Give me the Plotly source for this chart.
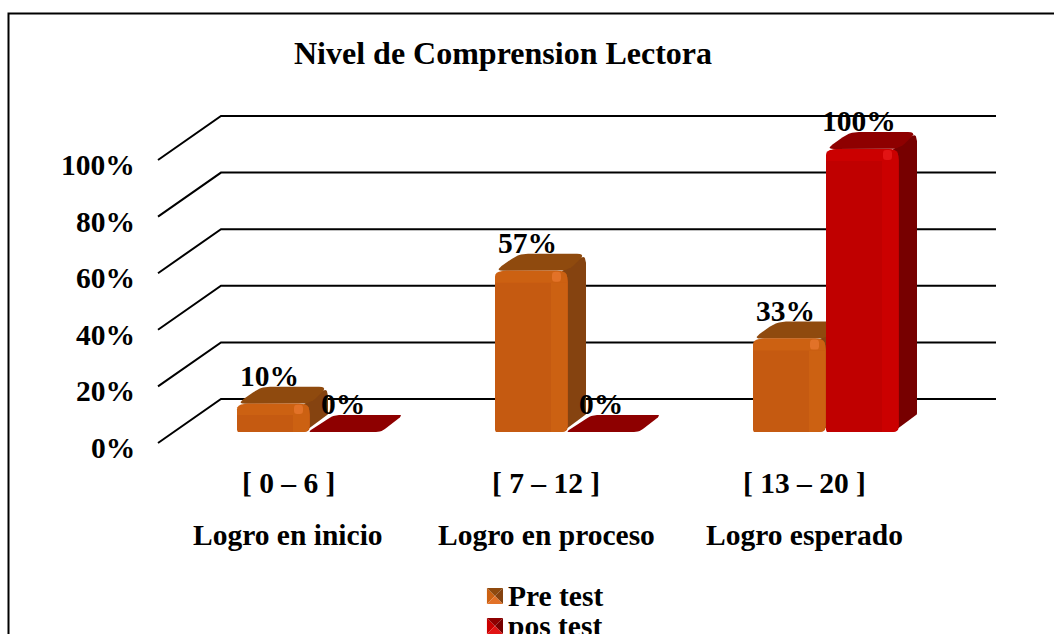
import plotly.graph_objects as go

# ---- data ----
categories = ["[ 0 – 6 ]", "[ 7 – 12 ]", "[ 13 – 20 ]"]
levels = ["Logro en inicio", "Logro en proceso", "Logro esperado"]
series_names = ["Pre test", "pos test"]
pre_test = [10, 57, 33]
pos_test = [0, 0, 100]
y_ticks = [0, 20, 40, 60, 80, 100]
title = "Nivel de Comprension Lectora"

# ---- layout constants (screen scale of the axes) ----
W, H = 1054, 634
UX = 258.0      # px per category
UY = 2.83       # px per percent
X0, Y0 = 310.0, 432.0   # px of category 0 boundary, and of the bar base
BAR_W, BAR_DX, BAR_DY = 73.0, 18.0, 17.0
GRID_BACK, GRID_FRONT = 33.0, -11.0   # px above the bar base at value 0
GRID_L, GRID_M, GRID_R = 158.0, 221.0, 996.0
FONT = "Liberation Serif"

PRE = dict(front="#C55A11", band="#CC6112", hi="#E27228", top="#8F4A0E", side="#854310")
POS = dict(front="#C00000", band="#CB0000", hi="#E21414", top="#8E0000", side="#770000")


def round_poly(pts, radii):
    """Replace polygon corners by quadratic rounded corners."""
    out = []
    n = len(pts)
    for i, (p, r) in enumerate(zip(pts, radii)):
        a, b = pts[i - 1], pts[(i + 1) % n]
        def toward(q):
            ox, oy = q[0] - p[0], q[1] - p[1]
            d = (ox * ox + oy * oy) ** 0.5 or 1.0
            k = min(r, d / 2) / d
            return (p[0] + ox * k, p[1] + oy * k)
        s, e = toward(a), toward(b)
        for t in [0, .2, .4, .6, .8, 1]:
            out.append(((1 - t) ** 2 * s[0] + 2 * t * (1 - t) * p[0] + t * t * e[0],
                        (1 - t) ** 2 * s[1] + 2 * t * (1 - t) * p[1] + t * t * e[1]))
    return out


def dx(cat, off=0.0):
    return cat + off / UX


def dy(val, off=0.0):
    return val + off / UY


fig = go.Figure()


def poly(pts, color):
    fig.add_trace(go.Scatter(
        x=[p[0] for p in pts] + [pts[0][0]],
        y=[p[1] for p in pts] + [pts[0][1]],
        mode="lines", fill="toself", fillcolor=color,
        line=dict(width=0, color=color), hoverinfo="skip", showlegend=False))


def bar(cat, off, val, c):
    h = val * UY
    sc = lambda q: (dx(cat, off + q[0]), dy(0, q[1]))
    w, ddx, ddy = BAR_W, BAR_DX, BAR_DY
    if val > 0:
        side = [(w - 6, 0), (w + ddx, ddy), (w + ddx, h + ddy), (w - 6, h)]
        poly([sc(q) for q in round_poly(side, [1, 2, 9, 1])], c["side"])
        top = [(0, h), (w, h), (w + ddx, h + ddy), (ddx + 6, h + ddy)]
        poly([sc(q) for q in round_poly(top, [8, 8, 9, 9])], c["top"])
        front = [(0, 0), (w, 0), (w, h), (0, h)]
        poly([sc(q) for q in round_poly(front, [2, 6, 11, 11])], c["front"])
        band_h = min(12, h * 0.4)
        right = [(w - 17, 0), (w - 1, 0), (w - 1, h - band_h), (w - 17, h - band_h)]
        poly([sc(q) for q in round_poly(right, [0, 5, 0, 0])], c["band"])
        band = [(0, h - band_h), (w - 1, h - band_h), (w - 1, h), (0, h)]
        poly([sc(q) for q in round_poly(band, [0, 0, 10, 11])], c["band"])
        glow = [(w - 16, h - band_h + 1), (w - 7, h - band_h + 1), (w - 7, h - 1), (w - 16, h - 1)]
        poly([sc(q) for q in round_poly(glow, [3, 3, 3, 3])], c["hi"])
    else:
        # a zero value leaves only the flat lid of the bar
        top = [(-2, 0), (w - 2, 0), (w + ddx + 2, ddy), (ddx + 6, ddy)]
        poly([sc(q) for q in round_poly(top, [3, 5, 4, 5])], c["top"])


# gridlines: back wall plus left wall
for t in y_ticks:
    xs = [dx(0, GRID_L - X0), dx(0, GRID_M - X0), dx(0, GRID_R - X0)]
    ys = [dy(t, GRID_FRONT), dy(t, GRID_BACK), dy(t, GRID_BACK)]
    fig.add_trace(go.Scatter(x=xs, y=ys, mode="lines",
                             line=dict(color="black", width=2),
                             hoverinfo="skip", showlegend=False))

# bars
for i in range(len(categories)):
    bar(i, -BAR_W, pre_test[i], PRE)
    bar(i, 0, pos_test[i], POS)

annotations = []


def text(x, y, s, size=29.5, xanchor="center"):
    annotations.append(dict(x=x, y=y, text="<b>%s</b>" % s, showarrow=False,
                            xref="x", yref="y", xanchor=xanchor, yanchor="middle",
                            font=dict(family=FONT, size=size, color="black")))


# value labels
for i in range(len(categories)):
    text(dx(i, -BAR_W + BAR_W / 2 - 4), dy(pre_test[i], 28), "%d%%" % pre_test[i])
    text(dx(i, BAR_W / 2 - 4), dy(pos_test[i], 28), "%d%%" % pos_test[i])

# tick labels
for t in y_ticks:
    text(dx(0, 136.5 - X0), dy(t, GRID_FRONT - 5), "%d%%" % t, xanchor="right")

# category labels (two rows)
for i in range(len(categories)):
    text(dx(i, -22), dy(0, -51), categories[i])
    text(dx(i, -22), dy(0, -103), levels[i])

# title and legend text
text(dx(0, 503 - X0), dy(0, Y0 - 53), title, size=32)
for k, name in enumerate(series_names):
    text(dx(0, 506 - X0), dy(0, Y0 - 596 - 29.5 * k), name, xanchor="left")

# legend icons: bevelled squares
shapes = []
for k, c in enumerate([PRE, POS]):
    cx0, cy0 = 487, 588 + 30 * k
    s = 16
    px = lambda a, b: "%.4f %.4f" % (a / W, 1 - b / H)
    mid = (cx0 + s / 2, cy0 + s / 2)
    faces = [
        (c["band"], [(cx0, cy0), mid, (cx0, cy0 + s)]),
        (c["top"], [(cx0, cy0), (cx0 + s, cy0), mid]),
        (c["side"], [(cx0 + s, cy0), (cx0 + s, cy0 + s), mid]),
        (c["hi"], [(cx0, cy0 + s), (cx0 + s, cy0 + s), mid]),
    ]
    for col, pts in faces:
        shapes.append(dict(type="path", xref="paper", yref="paper", layer="above",
                           path="M " + " L ".join(px(*p) for p in pts) + " Z",
                           fillcolor=col, line=dict(width=0)))

# outer frame: runs past the lower and right edges of the page
shapes.append(dict(type="rect", xref="paper", yref="paper", layer="below",
                   x0=8.5 / W, x1=1.05, y0=-0.05, y1=1 - 13.5 / H,
                   line=dict(color="black", width=2), fillcolor="rgba(0,0,0,0)"))

fig.update_layout(
    width=W, height=H, margin=dict(l=0, r=0, t=0, b=0),
    paper_bgcolor="white", plot_bgcolor="white", showlegend=False,
    xaxis=dict(visible=False, range=[(0 - X0) / UX, (W - X0) / UX], fixedrange=True),
    yaxis=dict(visible=False, range=[(Y0 - H) / UY, Y0 / UY], fixedrange=True),
    annotations=annotations, shapes=shapes,
)

fig.write_html("out.html", config=dict(displayModeBar=False),
               post_script="document.body.style.margin='0';document.body.style.overflow='hidden';")
